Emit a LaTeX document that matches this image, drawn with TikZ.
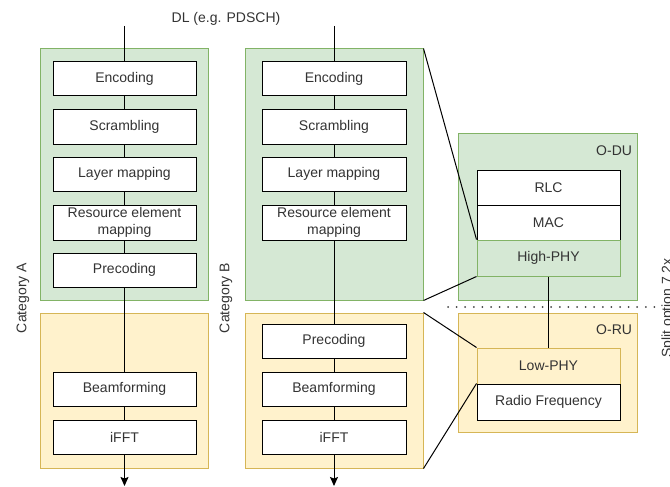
\documentclass[tikz,border=0pt]{standalone}
\usepackage{fontspec}
\setmainfont{Liberation Sans}
\usetikzlibrary{arrows.meta,calc}
\definecolor{gfill}{HTML}{D5E8D4}
\definecolor{gline}{HTML}{82B366}
\definecolor{yfill}{HTML}{FFF2CC}
\definecolor{yline}{HTML}{D6B656}
\definecolor{txt}{HTML}{333333}
\begin{document}
\begin{tikzpicture}[x=1pt,y=-1pt,
  every node/.style={font=\fontsize{14}{16.8}\selectfont, text=txt},
  gbox/.style={draw=gline, fill=gfill, line width=1pt, inner sep=0pt},
  ybox/.style={draw=yline, fill=yfill, line width=1pt, inner sep=0pt},
  wbox/.style={draw=black, fill=white, line width=1pt, minimum width=143pt, minimum height=34pt, inner sep=0pt, align=center},
  flow/.style={draw=black, line width=1pt},
  flowarrow/.style={flow, -{Stealth[length=9pt,width=8pt,inset=1.5pt]}},
  zoomline/.style={draw=black, line width=1pt},
  splitline/.style={draw=black!75, line width=2pt, dash pattern=on 0pt off 8.6pt, line cap=round}
]
\useasboundingbox (0,0) rectangle (670,487);

% containers
\node[gbox, minimum width=168pt, minimum height=251pt] (ga) at (124,174.5) {};
\node[ybox, minimum width=168pt, minimum height=155pt] (ya) at (124,390.5) {};
\node[gbox, minimum width=178pt, minimum height=251pt] (gb) at (334,174.5) {};
\node[ybox, minimum width=178pt, minimum height=155pt] (yb) at (334,390.5) {};
\node[gbox, minimum width=179pt, minimum height=167pt] (odu) at (547.5,216.5) {};
\node[ybox, minimum width=179pt, minimum height=119pt] (oru) at (547.5,372.5) {};

% labels
\node (dl) at (226,19) {DL (e.g. PDSCH)};
\node[rotate=90] (cata) at (23,298) {Category A};
\node[rotate=90] (catb) at (226,298) {Category B};
\node[rotate=90] (split) at (668,308) {Split option 7.2x};
\node[anchor=east] (odulbl) at ($(odu.north east)+(-2,18)$) {O-DU};
\node[anchor=east] (orulbl) at ($(oru.north east)+(-2,17)$) {O-RU};

% column A
\node[wbox] (encA) at (124.5,79) {Encoding};
\node[wbox] (scrA) at (124.5,127) {Scrambling};
\node[wbox] (layA) at (124.5,174) {Layer mapping};
\node[wbox, minimum height=35pt] (remA) at (124.5,222.5) {Resource element\\mapping};
\node[wbox] (preA) at (124.5,270) {Precoding};
\node[wbox] (bfA) at (124.5,389) {Beamforming};
\node[wbox] (fftA) at (124.5,437) {iFFT};

% column B
\node[wbox, minimum width=144pt] (encB) at (334,79) {Encoding};
\node[wbox, minimum width=144pt] (scrB) at (334,127) {Scrambling};
\node[wbox, minimum width=144pt] (layB) at (334,174) {Layer mapping};
\node[wbox, minimum width=144pt, minimum height=35pt] (remB) at (334,222.5) {Resource element\\mapping};
\node[wbox, minimum width=144pt] (preB) at (334,341) {Precoding};
\node[wbox, minimum width=144pt] (bfB) at (334,389) {Beamforming};
\node[wbox, minimum width=144pt] (fftB) at (334,437) {iFFT};

% O-DU / O-RU stacks
\node[wbox, minimum height=35pt] (rlc) at (548.5,187.5) {RLC};
\node[wbox, minimum height=35pt] (mac) at (548.5,222.5) {MAC};
\node[gbox, minimum width=143pt, minimum height=36pt, align=center] (hphy) at (548.5,258) {High-PHY};
\node[ybox, minimum width=143pt, minimum height=36pt, align=center] (lphy) at (548.5,366) {Low-PHY};
\node[wbox, minimum height=36pt] (rf) at (548.5,402) {Radio Frequency};

% flow coordinates
\coordinate (topA) at (124.5,26);
\coordinate (topB) at (334,26);
\coordinate (botA) at (124.5,486);
\coordinate (botB) at (334,486);

% flow A
\draw[flow] (topA) -- (encA);
\draw[flow] (encA) -- (scrA);
\draw[flow] (scrA) -- (layA);
\draw[flow] (layA) -- (remA);
\draw[flow] (remA) -- (preA);
\draw[flow] (preA) -- (bfA);
\draw[flow] (bfA) -- (fftA);
\draw[flowarrow] (fftA) -- (botA);

% flow B
\draw[flow] (topB) -- (encB);
\draw[flow] (encB) -- (scrB);
\draw[flow] (scrB) -- (layB);
\draw[flow] (layB) -- (remB);
\draw[flow] (remB) -- (preB);
\draw[flow] (preB) -- (bfB);
\draw[flow] (bfB) -- (fftB);
\draw[flowarrow] (fftB) -- (botB);

% O-DU to O-RU
\draw[flow] (hphy) -- (lphy);

% zoom lines
\draw[zoomline] (gb.north east) -- (hphy.north west);
\draw[zoomline] (gb.south east) -- (hphy.south west);
\draw[zoomline] (yb.north east) -- (lphy.north west);
\draw[zoomline] (yb.south east) -- (rf.north west);

% split line
\coordinate (s1) at (448,307);
\coordinate (s2) at (655,307);
\draw[splitline] (s1) -- (s2);
\end{tikzpicture}
\end{document}
